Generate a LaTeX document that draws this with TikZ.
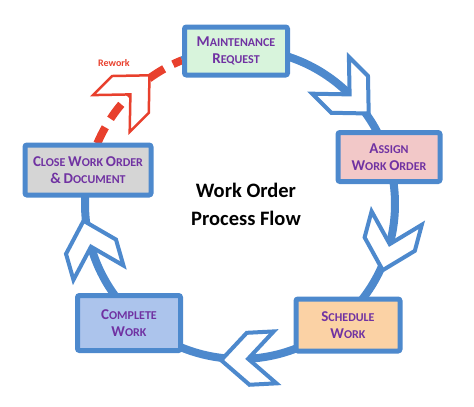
\documentclass[tikz,border=0pt]{standalone}
\usepackage{fontspec}
\setmainfont{Carlito}
\definecolor{ringblue}{RGB}{77,137,205}
\definecolor{purp}{RGB}{112,50,162}
\definecolor{redc}{RGB}{232,64,45}
\definecolor{mfill}{RGB}{216,244,220}
\definecolor{afill}{RGB}{242,200,200}
\definecolor{sfill}{RGB}{251,210,165}
\definecolor{cfill}{RGB}{172,196,236}
\definecolor{gfill}{RGB}{213,213,213}
\newcommand\bigc[1]{{\fontsize{15}{17}\selectfont #1}}
\newcommand\chevron[2]{%
  \begin{scope}[shift={({240+155*cos(#1)},{204+155*sin(#1)})}, rotate={-(#1+90)}]
    \draw[#2] (27,0) -- (0,-26) -- (-27,-26) -- (0,0) -- (-27,26) -- (0,26) -- cycle;
  \end{scope}}
\tikzset{
  box/.style={draw=ringblue, line width=5pt, rounded corners=2pt, inner sep=0pt,
    text=purp, font=\bfseries\fontsize{12}{17}\selectfont, align=center},
  ring/.style={draw=ringblue, line width=8pt},
  redring/.style={draw=redc, line width=8pt, dash pattern=on 18pt off 10pt},
  chevb/.style={draw=ringblue, fill=white, line width=4pt, line join=miter},
  chevr/.style={draw=redc, fill=white, line width=2.5pt, line join=miter},
}
\begin{document}
\begin{tikzpicture}[x=1pt, y=-1pt]
\useasboundingbox (0,0) rectangle (474,407);
% ring
\draw[ring] plot[variable=\t, domain=-112:201, samples=240] ({240+155*cos(\t)},{204+155*sin(\t)});
\draw[redring] plot[variable=\t, domain=203:248, samples=60] ({240+155*cos(\t)},{204+155*sin(\t)});
% chevrons
\chevron{-45}{chevb}
\chevron{15}{chevb}
\chevron{87}{chevb}
\chevron{164}{chevb}
\chevron{225}{chevr}
% boxes
\node[box, fill=mfill, minimum width=103pt, minimum height=48pt] (maint) at (236,51)
  {\bigc{M}AINTENANCE\\\bigc{R}EQUEST};
\node[box, fill=afill, minimum width=102pt, minimum height=49pt] (assign) at (389,157)
  {\bigc{A}SSIGN\\\bigc{W}ORK \bigc{O}RDER};
\node[box, fill=sfill, minimum width=104pt, minimum height=52pt] (sched) at (348,325)
  {\bigc{S}CHEDULE\\\bigc{W}ORK};
\node[box, fill=cfill, minimum width=103pt, minimum height=55pt] (compl) at (129,323)
  {\bigc{C}OMPLETE\\\bigc{W}ORK};
\node[box, fill=gfill, minimum width=126pt, minimum height=50pt] (close) at (88,170)
  {\bigc{C}LOSE \bigc{W}ORK \bigc{O}RDER\\\bigc{\&} \bigc{D}OCUMENT};
% labels
\node[font=\bfseries\fontsize{20.5}{28}\selectfont, align=center] (title) at (246,204)
  {Work Order\\Process Flow};
\node[text=redc, font=\bfseries\fontsize{10}{12}\selectfont] (rework) at (114,63) {Rework};
\end{tikzpicture}
\end{document}
